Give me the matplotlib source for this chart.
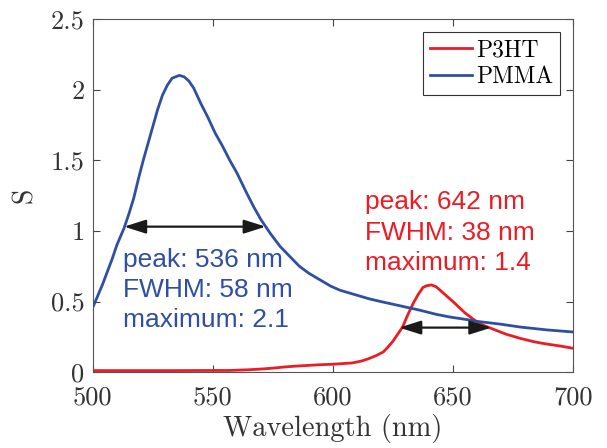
import matplotlib
matplotlib.use("Agg")
import matplotlib.pyplot as plt

# Spectra
pmma_wl = [500, 502, 504, 506, 508, 510, 513, 515, 517, 519, 521, 523, 525, 527, 529, 531, 533,
           536, 538, 540, 542, 545, 548, 551, 554, 557, 560, 564, 567, 570, 574, 578, 582, 586,
           590, 595, 599, 603, 607, 611, 615, 620, 628, 636, 643, 649, 655, 660, 670, 678, 689, 700]
pmma_s = [0.46, 0.54, 0.62, 0.71, 0.80, 0.90, 1.02, 1.12, 1.23, 1.37, 1.50, 1.62, 1.74, 1.86, 1.96, 2.03, 2.08,
          2.10, 2.09, 2.06, 2.01, 1.90, 1.80, 1.69, 1.60, 1.50, 1.41, 1.27, 1.17, 1.08, 0.98, 0.89, 0.82, 0.75,
          0.70, 0.65, 0.61, 0.58, 0.56, 0.54, 0.52, 0.50, 0.47, 0.44, 0.41, 0.39, 0.375, 0.36, 0.34, 0.32, 0.30, 0.285]

p3ht_wl = [500, 530, 557, 565, 571, 576, 580, 584, 588, 594, 600, 608, 612, 615, 618, 621, 623, 625,
           627, 629, 631, 633.5, 635.5, 637.5, 639, 641, 643, 646, 648, 650, 655, 660, 663, 666, 672,
           678, 684, 689, 695, 700]
p3ht_s = [0.012, 0.012, 0.013, 0.018, 0.024, 0.031, 0.038, 0.043, 0.047, 0.053, 0.057, 0.066, 0.08, 0.097, 0.118, 0.144, 0.18, 0.22,
          0.27, 0.32, 0.40, 0.49, 0.55, 0.60, 0.612, 0.618, 0.605, 0.56, 0.53, 0.50, 0.42, 0.356, 0.33, 0.31, 0.27,
          0.24, 0.215, 0.20, 0.185, 0.17]

# FWHM arrows: (left, right, height)
pmma_fwhm = (513, 572, 1.03)
p3ht_fwhm = (627.6, 666, 0.316)

pmma_info = ["peak: 536 nm", "FWHM: 58 nm", "maximum: 2.1"]
p3ht_info = ["peak: 642 nm", "FWHM: 38 nm", "maximum: 1.4"]

xticks = [500, 550, 600, 650, 700]
yticks = [0, 0.5, 1, 1.5, 2, 2.5]
ytick_labels = ["0", "0.5", "1", "1.5", "2", "2.5"]

RED = "#EC1C24"
BLUE = "#2F4FA2"
SERIF = "cmr10"
SANS = "Liberation Sans"

fig = plt.figure(figsize=(6.07, 4.48), dpi=100)
ax = fig.add_axes([0.153, 0.169, 0.791, 0.789])

ax.plot(p3ht_wl, p3ht_s, color=RED, lw=2, label="P3HT")
ax.plot(pmma_wl, pmma_s, color=BLUE, lw=2, label="PMMA")

# double headed FWHM arrows
for x0, x1, y in [pmma_fwhm, p3ht_fwhm]:
    ax.annotate("", xy=(x0, y), xytext=(x1, y),
                arrowprops=dict(arrowstyle="<|-|>,head_length=1.2,head_width=0.38",
                                color="#1a1a1a", lw=1.6, mutation_scale=11,
                                shrinkA=0, shrinkB=0))

# annotation text, one line at a time
for i, line in enumerate(pmma_info):
    ax.annotate(line, xy=(512.5, 0.746), xytext=(0, -i * 21.6), textcoords="offset points",
                color=BLUE, fontsize=19, family=SANS, va="baseline", ha="left")
for i, line in enumerate(p3ht_info):
    ax.annotate(line, xy=(613.5, 1.154), xytext=(0, -i * 22.0), textcoords="offset points",
                color=RED, fontsize=19, family=SANS, va="baseline", ha="left")

ax.set_xlim(500, 700)
ax.set_ylim(0, 2.5)
ax.set_xticks(xticks)
ax.set_xticklabels([str(t) for t in xticks], family=SERIF, fontsize=19)
ax.set_yticks(yticks)
ax.set_yticklabels(ytick_labels, family=SERIF, fontsize=19)
ax.tick_params(direction="in", top=True, right=True, length=5, width=0.8,
               color="#444444", labelcolor="#333333")
ax.tick_params(axis="x", pad=10)
ax.tick_params(axis="y", pad=6)
for s in ax.spines.values():
    s.set_color("#555555")
    s.set_linewidth(0.8)

ax.set_xlabel("Wavelength (nm)", family=SERIF, fontsize=20.5, color="#333333", labelpad=3)
ax.set_ylabel("S", family=SERIF, fontsize=20, color="#333333", labelpad=9)

leg = ax.legend(loc="upper right", prop={"family": SERIF, "size": 17},
                fancybox=False, framealpha=1, edgecolor="#333333",
                handlelength=1.8, handletextpad=0.15, labelspacing=0.22,
                borderpad=0.3, borderaxespad=0.55)
leg.get_frame().set_linewidth(0.8)

fig.savefig("out.png", dpi=100)
